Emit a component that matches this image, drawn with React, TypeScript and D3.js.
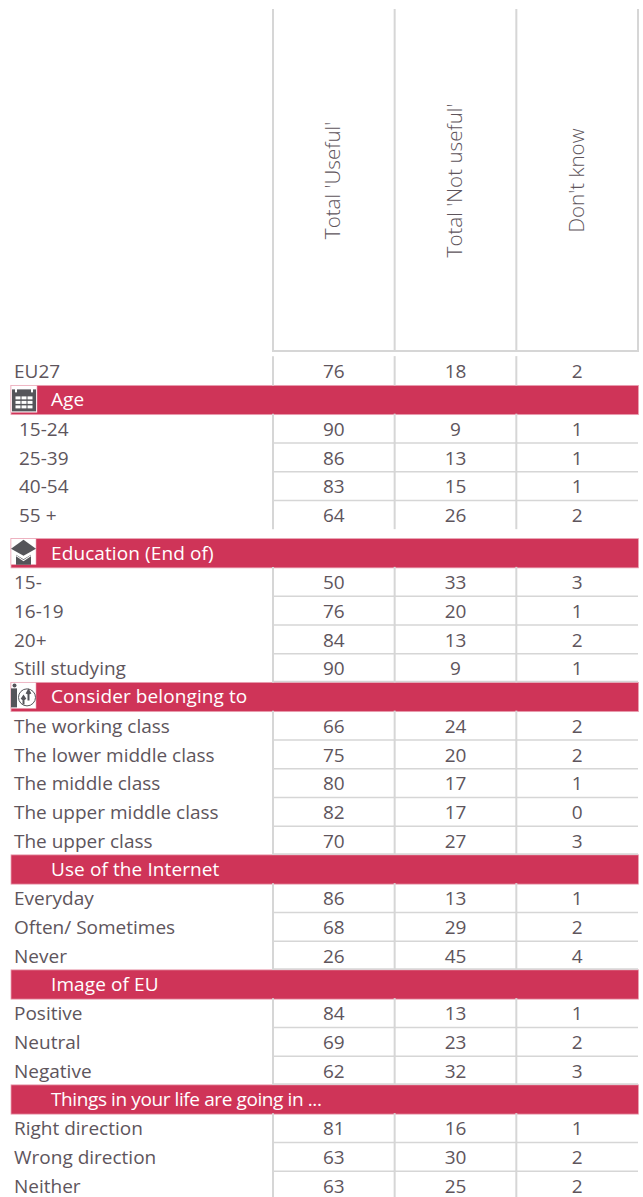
import React, { useEffect, useRef } from 'react';
import * as d3 from 'd3';

const columns = ["Total 'Useful'", "Total 'Not useful'", "Don't know"];

const rowLabels = [
  'EU27', 'Age', '15-24', '25-39', '40-54', '55 +',
  'Education (End of)', '15-', '16-19', '20+', 'Still studying',
  'Consider belonging to', 'The working class', 'The lower middle class', 'The middle class', 'The upper middle class', 'The upper class',
  'Use of the Internet', 'Everyday', 'Often/ Sometimes', 'Never',
  'Image of EU', 'Positive', 'Neutral', 'Negative',
  'Things in your life are going in ...', 'Right direction', 'Wrong direction', 'Neither',
];

const headerRows = ['Age', 'Education (End of)', 'Consider belonging to', 'Use of the Internet', 'Image of EU', 'Things in your life are going in ...'];
const indentedRows = ['15-24', '25-39', '40-54', '55 +'];

const useful = [76, null, 90, 86, 83, 64, null, 50, 76, 84, 90, null, 66, 75, 80, 82, 70, null, 86, 68, 26, null, 84, 69, 62, null, 81, 63, 63];
const notUseful = [18, null, 9, 13, 15, 26, null, 33, 20, 13, 9, null, 24, 20, 17, 17, 27, null, 13, 29, 45, null, 13, 23, 32, null, 16, 30, 25];
const dontKnow = [2, null, 1, 1, 1, 2, null, 3, 1, 2, 1, null, 2, 2, 1, 0, 3, null, 1, 2, 4, null, 1, 2, 3, null, 1, 2, 2];
const series = [useful, notUseful, dontKnow];

const W = 643;
const H = 1197;
const FONT = "'Open Sans', sans-serif";
const TEXT = '#5e555c';
const GRID = '#d6d6d6';
const RED = '#cf3458';
const ICON = '#55555a';

// small pictograms on the first three section bands
const drawCalendar = (g: any) => {
  g.append('rect').attr('x', 0).attr('y', 0).attr('width', 26).attr('height', 27).attr('fill', '#fff').attr('stroke', '#eaa3b4').attr('stroke-width', 0.6);
  g.append('rect').attr('x', 1).attr('y', 4).attr('width', 24).attr('height', 22).attr('fill', ICON);
  [4, 20].forEach(px => g.append('rect').attr('x', px).attr('y', 1).attr('width', 2).attr('height', 6).attr('fill', '#fff'));
  [0, 1, 2].forEach(c => [0, 1, 2].forEach(r =>
    g.append('rect').attr('x', 4.5 + c * 6).attr('y', 11 + r * 4.5).attr('width', 5).attr('height', 3).attr('fill', '#fff')));
};

const drawCap = (g: any) => {
  g.append('rect').attr('x', 0).attr('y', 0).attr('width', 25).attr('height', 26).attr('fill', '#fff').attr('stroke', '#eaa3b4').attr('stroke-width', 0.6);
  g.append('path').attr('d', 'M12.5,1 L25,10 L12.5,17 L0,10 Z').attr('fill', ICON);
  g.append('path').attr('d', 'M5,16 L12.5,20.5 L20,16 V26 H5 Z').attr('fill', ICON);
  g.append('path').attr('d', 'M5,17 L12.5,22 L20,17').attr('fill', 'none').attr('stroke', '#fff').attr('stroke-width', 1.2);
};

const drawClimber = (g: any) => {
  g.append('rect').attr('x', 0).attr('y', 0).attr('width', 25).attr('height', 26).attr('fill', '#fff').attr('stroke', '#eaa3b4').attr('stroke-width', 0.6);
  g.append('circle').attr('cx', 3.5).attr('cy', 3).attr('r', 2).attr('fill', ICON);
  g.append('rect').attr('x', 0).attr('y', 6).attr('width', 6).attr('height', 19).attr('fill', ICON);
  g.append('circle').attr('cx', 16).attr('cy', 15).attr('r', 8.5).attr('fill', '#fff').attr('stroke', ICON).attr('stroke-width', 1);
  g.append('path').attr('d', 'M12.5,22 V15 M10.5,17 L12.5,14 L14.5,17 M17.5,18 V9 M15.5,11.5 L17.5,8 L19.5,11.5')
    .attr('fill', 'none').attr('stroke', ICON).attr('stroke-width', 2);
};

const icons: Record<string, (g: any) => void> = {
  'Age': drawCalendar,
  'Education (End of)': drawCap,
  'Consider belonging to': drawClimber,
};

export default function App() {
  const ref = useRef<SVGSVGElement>(null);

  useEffect(() => {
    const svg = d3.select(ref.current);
    svg.selectAll('*').remove();

    const x = d3.scaleBand().domain(columns).range([273, 638]);
    // row centres: even pitch, with one extra gap after the age block
    const y = d3.scaleLinear().domain([0, 5, 6, 28]).range([371, 514.8, 553, 1185.5]);
    const rowH = 28.75;

    // header cells
    const edges = [...columns.map(c => x(c) as number), 638];
    svg.append('g').selectAll('line').data(edges).join('line')
      .attr('x1', d => d).attr('x2', d => d).attr('y1', 9).attr('y2', 351.5)
      .attr('stroke', GRID).attr('stroke-width', 2);
    svg.append('line').attr('x1', 272).attr('x2', 639).attr('y1', 351).attr('y2', 351)
      .attr('stroke', GRID).attr('stroke-width', 2);

    svg.append('g').selectAll('text').data(columns).join('text')
      .attr('transform', d => `translate(${(x(d) as number) + x.bandwidth() / 2 - 1.5},180.5) rotate(-90)`)
      .attr('text-anchor', 'middle').attr('dominant-baseline', 'central')
      .attr('font-family', FONT).attr('font-size', 20.6).attr('font-weight', 300).attr('fill', TEXT)
      .text(d => d);

    // section bands
    headerRows.forEach(label => {
      const cy = y(rowLabels.indexOf(label));
      svg.append('rect').attr('x', 11).attr('y', cy - rowH / 2).attr('width', 627.5).attr('height', rowH + 0.5)
        .attr('fill', RED).attr('stroke', '#eaa3b4').attr('stroke-width', 0.8);
      svg.append('text').attr('x', 51).attr('y', cy - 0.3)
        .attr('dominant-baseline', 'central')
        .attr('font-family', FONT).attr('font-size', 19).attr('fill', '#fff')
        .attr('letter-spacing', label.length > 30 ? -0.4 : 0.1)
        .text(label);
      if (icons[label]) {
        icons[label](svg.append('g').attr('transform', `translate(11,${cy - rowH / 2})`));
      }
    });

    rowLabels.forEach((label, i) => {
      const cy = y(i);
      if (headerRows.includes(label)) return;
      const g = svg.append('g');
      const last = i === rowLabels.length - 1 || headerRows.includes(rowLabels[i + 1]);
      const gapAfter = label === '55 +' || i === 0 || i === rowLabels.length - 1;
      // vertical cell rules, a touch into the band above
      g.selectAll('line.v').data(edges.slice(0, 3)).join('line')
        .attr('class', 'v')
        .attr('x1', d => d).attr('x2', d => d)
        .attr('y1', cy - rowH / 2 - 0.5).attr('y2', cy + rowH / 2 + (last ? 0 : 0.5))
        .attr('stroke', GRID).attr('stroke-width', 2);
      if (!last) {
        g.append('line').attr('x1', 273).attr('x2', 638)
          .attr('y1', cy + rowH / 2).attr('y2', cy + rowH / 2)
          .attr('stroke', GRID).attr('stroke-width', 1.5);
      } else if (!gapAfter) {
        g.append('line').attr('x1', 272).attr('x2', 638)
          .attr('y1', cy + rowH / 2 - 1).attr('y2', cy + rowH / 2 - 1)
          .attr('stroke', GRID).attr('stroke-width', 1.5);
      }
      g.append('text')
        .attr('x', indentedRows.includes(label) ? 19 : 14).attr('y', cy + 0.4)
        .attr('dominant-baseline', 'central')
        .attr('font-family', FONT).attr('font-size', 19).attr('fill', TEXT)
        .text(label);
      g.selectAll('text.v').data(columns).join('text')
        .attr('class', 'v')
        .attr('x', d => (x(d) as number) + x.bandwidth() / 2).attr('y', cy + 0.4)
        .attr('text-anchor', 'middle').attr('dominant-baseline', 'central')
        .attr('font-family', FONT).attr('font-size', 19).attr('fill', TEXT)
        .text((_, j) => String(series[j][i]));
    });
  }, []);

  return <svg ref={ref} width={W} height={H} style={{ position: 'absolute', left: 0, top: 0 }} />;
}
